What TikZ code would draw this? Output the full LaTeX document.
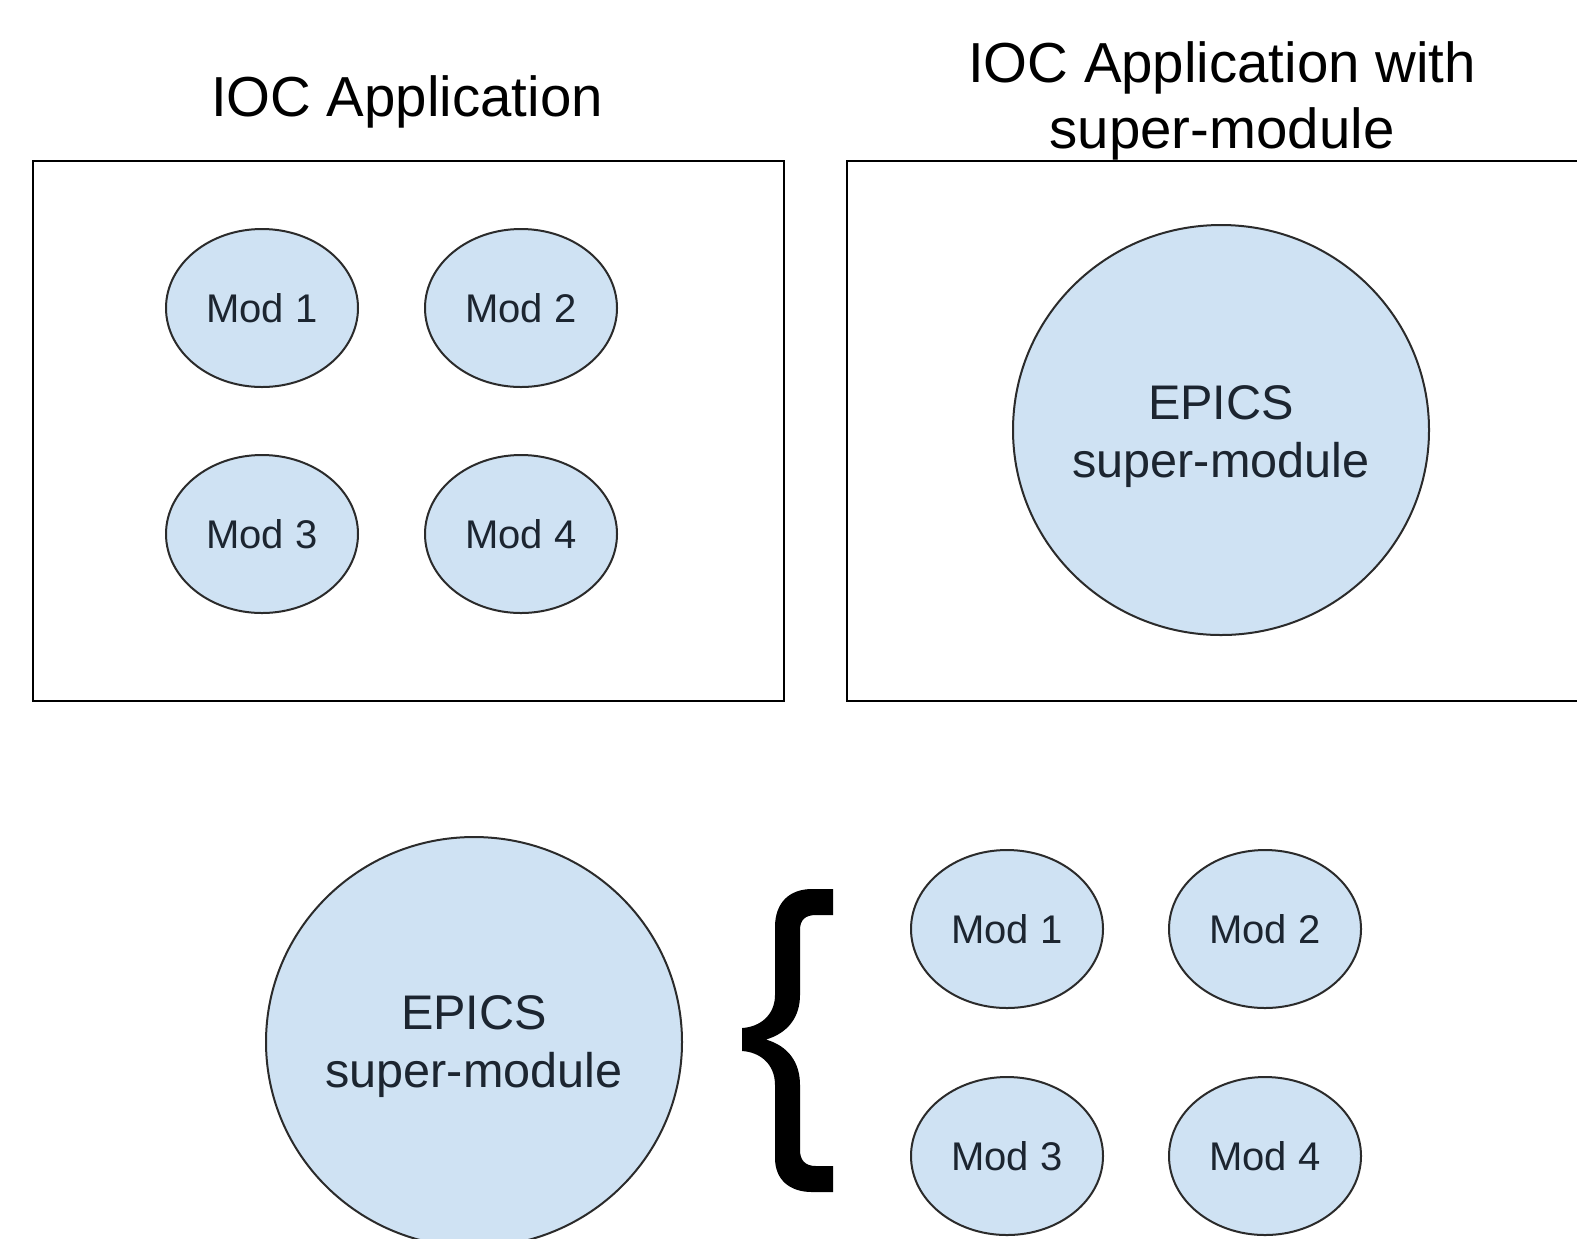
\documentclass[tikz,border=0pt]{standalone}
\usepackage{fontspec}
\setmainfont{Liberation Sans}
\usetikzlibrary{shapes.geometric}
\definecolor{modfill}{HTML}{CFE2F3}
\definecolor{modtext}{HTML}{1C2530}
\definecolor{modline}{HTML}{2B2B2B}
\begin{document}
\begin{tikzpicture}[x=0.5pt,y=-0.5pt,
  modnode/.style={ellipse,draw=modline,line width=1pt,fill=modfill,minimum width=96pt,minimum height=79pt,inner sep=0pt,text=modtext,font=\fontsize{20}{24}\selectfont},
  epicsnode/.style={ellipse,draw=modline,line width=1pt,fill=modfill,minimum width=208pt,minimum height=205pt,inner sep=0pt},
  epicstext/.style={inner sep=0pt,text=modtext,align=center,font=\fontsize{24.3}{29}\selectfont},
  appbox/.style={draw=black,line width=1.3pt,inner sep=0pt},
  titletext/.style={font=\fontsize{28.2}{33}\selectfont,align=center,inner sep=0pt}]
\useasboundingbox (0,0) rectangle (1577,1238);
\clip (0,0) rectangle (1577,1238);
\fill[white] (0,0) rectangle (1577,1238);
% titles
\node[titletext] (t1) at (407,102) {IOC Application};
\node[titletext] (t2) at (1222,101) {IOC Application with\\super-module};
% boxes
\node[appbox,minimum width=375.5pt,minimum height=270pt] (box1) at (408.5,431) {};
\node[appbox,minimum width=376.5pt,minimum height=270pt] (box2) at (1223.5,431) {};
% left box modules
\node[modnode] (m1) at (262,308) {Mod 1};
\node[modnode] (m2) at (521,308) {Mod 2};
\node[modnode] (m3) at (262,534) {Mod 3};
\node[modnode] (m4) at (521,534) {Mod 4};
% right box super-module
\node[epicsnode] (e1) at (1221,430) {};
\node[epicstext] (e1t) at (1221,437) {EPICS\\super-module};
% bottom
\node[epicsnode] (e2) at (474,1042) {};
\node[epicstext] (e2t) at (474,1047) {EPICS\\super-module};
\node[modnode] (b1) at (1007,929) {Mod 1};
\node[modnode] (b2) at (1265,929) {Mod 2};
\node[modnode] (b3) at (1007,1156) {Mod 3};
\node[modnode] (b4) at (1265,1156) {Mod 4};
% brace
\fill[black] (833,889) -- (812,889)
  .. controls (790,889) and (775,902) .. (775,927)
  -- (775,995)
  .. controls (775,1015) and (760,1027) .. (742,1028)
  -- (742,1051)
  .. controls (760,1052) and (775,1064) .. (775,1085)
  -- (775,1158)
  .. controls (775,1180) and (790,1192) .. (812,1192)
  -- (833,1192) -- (833,1166) -- (816,1166)
  .. controls (805,1166) and (800,1160) .. (800,1150)
  -- (800,1085)
  .. controls (800,1062) and (788,1046) .. (766,1039.5)
  .. controls (788,1033) and (800,1017) .. (800,995)
  -- (800,930)
  .. controls (800,920) and (805,915) .. (816,915)
  -- (833,915) -- cycle;
\end{tikzpicture}
\end{document}
